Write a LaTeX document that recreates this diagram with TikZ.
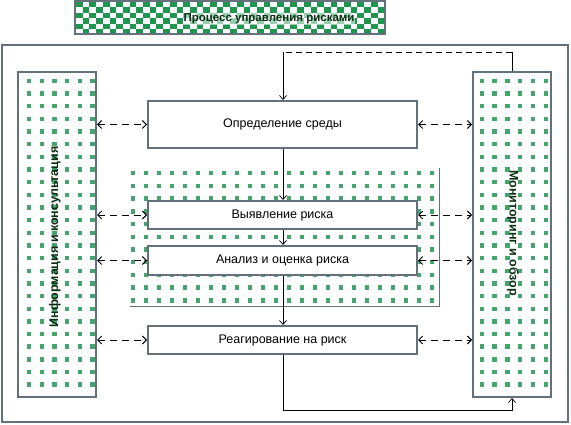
\documentclass[tikz,border=0pt]{standalone}
\usepackage{fontspec}
\setmainfont{Liberation Sans}
\usetikzlibrary{arrows.meta}
\definecolor{bord}{RGB}{100,112,122}
\definecolor{dotg}{RGB}{70,165,110}
\definecolor{chk}{RGB}{30,150,80}
\definecolor{ttext}{RGB}{10,45,20}
\begin{document}
\begin{tikzpicture}[x=1pt,y=-1pt,
  stage/.style={draw=bord, line width=2pt, fill=white, minimum width=269pt, inner sep=0pt, font=\fontsize{12.5}{14}\selectfont},
  side/.style={draw=bord, line width=2pt, fill=white, minimum width=78pt, minimum height=325pt, inner sep=0pt},
  sidelabel/.style={font=\fontsize{12.5}{14}\selectfont\bfseries, text=ttext, inner sep=0pt},
  flow/.style={-{Straight Barb[length=4pt,width=7pt]}, line width=0.7pt},
  link/.style={{Straight Barb[length=4pt,width=8pt]}-{Straight Barb[length=4pt,width=8pt]}, dash pattern=on 7pt off 5pt, line width=0.9pt},
  dot/.style={fill=dotg}
]
\useasboundingbox (0,0) rectangle (571,425);
\fill[white] (0,0) rectangle (571,425);

% title
\fill[white] (75,1) rectangle (385,34);
\begin{scope}
  \clip (75,1) rectangle (385,34);
  \foreach \r in {0,...,5}{
    \foreach \c in {0,...,23}{
      \pgfmathtruncatemacro{\odd}{mod(\r,2)}
      \fill[chk] (76+13.4*\c+6.7*\odd, 2+5.5*\r) rectangle ++(6.7,5.5);
    }
  }
\end{scope}
\draw[bord, line width=2pt] (75,1) rectangle (385,34);
\node[font=\fontsize{11.5}{13}\selectfont\bfseries, text=ttext, fill=white, fill opacity=0.55, text opacity=1, inner sep=1pt] (title) at (269,19) {Процесс управления рисками};

% outer frame
\draw[bord, line width=2pt] (2,45) rectangle (568,422);

% middle dotted region
\foreach \i in {0,...,23}{
  \foreach \j in {0,...,10}{
    \fill[dotg] (132.7+13*\i-2.2, 173.3+12.7*\j-2.2) rectangle ++(4.4,4.4);
  }
}
\draw[bord, line width=0.6pt] (439,168) -- (439,306.5) -- (130,306.5);

% side boxes
\node[side] (left) at (57,234.5) {};
\node[side] (right) at (512,234.5) {};
\foreach \i in {0,...,5}{
  \foreach \j in {0,...,24}{
    \fill[dotg] (29+12.7*\i-2.2, 81+12.65*\j-2.2) rectangle ++(4.4,4.4);
    \fill[dotg] (481.7+12.8*\i-2.2, 81+12.65*\j-2.2) rectangle ++(4.4,4.4);
  }
}
\node[sidelabel, rotate=90] (leftlabel) at (55,237) {Информация и консультация};
\node[sidelabel, rotate=-90] (rightlabel) at (513,233) {Мониторинг и обзор};

% stage boxes
\node[stage, minimum height=47pt] (b1) at (282.5,124.5) {Определение среды};
\node[stage, minimum height=28pt] (b2) at (282.5,215) {Выявление риска};
\node[stage, minimum height=29pt] (b3) at (282.5,260.5) {Анализ и оценка риска};
\node[stage, minimum height=28pt] (b4) at (282.5,340) {Реагирование на риск};

% vertical flow
\coordinate (tl) at (283,52);
\coordinate (tr) at (512,52);
\coordinate (bl) at (283,410);
\coordinate (br) at (512,410);
\draw[line width=0.7pt] (right.north) -- (tr);
\draw[line width=0.9pt, dash pattern=on 6pt off 4pt] (tr) -- (tl);
\draw[flow] (tl) -- (b1.north -| tl);
\draw[flow] (b1.south -| tl) -- (b2.north -| tl);
\draw[flow] (b2.south -| tl) -- (b3.north -| tl);
\draw[flow] (b3.south -| tl) -- (b4.north -| tl);
\draw[flow] (b4.south -| tl) -- (bl) -- (br) -- (right.south);

% horizontal links
\foreach \b in {b1,b2,b3,b4}{
  \draw[link] (left.east |- \b.west) -- (\b.west);
  \draw[link] (\b.east) -- (right.west |- \b.east);
}
\end{tikzpicture}
\end{document}
